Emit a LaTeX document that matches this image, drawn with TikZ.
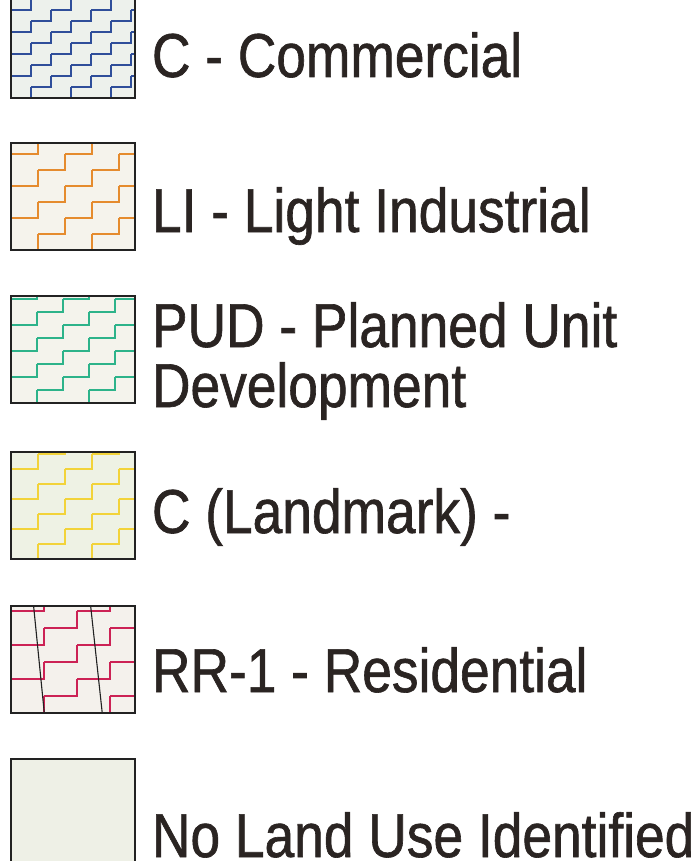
\documentclass[tikz,border=0pt]{standalone}
\usepackage{fontspec}
\newfontfamily\lab[FakeStretch=0.86,FakeBold=1]{Liberation Sans}
\definecolor{txt}{HTML}{2A2422}
\definecolor{bord}{HTML}{222222}
\definecolor{fC}{HTML}{EDF1EC}
\definecolor{fLI}{HTML}{F5F3EC}
\definecolor{fPUD}{HTML}{F4F3EC}
\definecolor{fLM}{HTML}{EEF2E4}
\definecolor{fRR}{HTML}{F4F1EC}
\definecolor{fNO}{HTML}{EEF0E6}
\definecolor{sC}{HTML}{2F4E9A}
\definecolor{sLI}{HTML}{E58B2E}
\definecolor{sPUD}{HTML}{2DB38A}
\definecolor{sLM}{HTML}{F2D33A}
\definecolor{sRR}{HTML}{CC2255}
\tikzset{
  swbox/.style={draw=none, inner sep=0pt, outer sep=0pt, minimum width=124pt, minimum height=107pt},
  swborder/.style={draw=bord, line width=1.6pt},
  stair/.style={line width=2.1pt, line cap=butt, line join=miter},
  lbl/.style={inner sep=0pt, outer sep=0pt, anchor=base west, text=txt, font=\lab\fontsize{62}{62}\selectfont}
}
% name, cx, cy(img), fill, stroke, run, rise
\newcommand\swatch[7]{%
  \node[swbox, fill=#4] (#1) at (#2,-#3) {};
  \begin{scope}
    \clip (#1.south west) rectangle (#1.north east);
    \foreach \i in {-1,...,8}{\foreach \j in {-1,...,12}{%
      \ifodd\numexpr\i+\j\relax\else
        \draw[stair, #5, shift={(#1.south west)}] (\i*#6,\j*#7) -- ++(#6,0) -- ++(0,#7);
      \fi}}
  \end{scope}
}
\begin{document}
\begin{tikzpicture}[x=1pt,y=1pt]
\useasboundingbox (0,0) rectangle (690,-861);
\fill[white] (0,0) rectangle (690,-861);

\swatch{b1}{73}{44.5}{fC}{sC}{20}{11}
\draw[swborder] (b1.south west) rectangle (b1.north east);
\swatch{b2}{73}{196.5}{fLI}{sLI}{27}{16}
\draw[swborder] (b2.south west) rectangle (b2.north east);
\swatch{b3}{73}{349.5}{fPUD}{sPUD}{26}{13}
\draw[swborder] (b3.south west) rectangle (b3.north east);
\swatch{b4}{73}{505.5}{fLM}{sLM}{27}{15}
\draw[swborder] (b4.south west) rectangle (b4.north east);
\swatch{b5}{73}{659.5}{fRR}{sRR}{33}{17}
\begin{scope}
  \clip (b5.south west) rectangle (b5.north east);
  \draw[bord, line width=1.1pt] (33,-600) -- (45,-720);
  \draw[bord, line width=1.1pt] (90,-600) -- (103,-720);
\end{scope}
\draw[swborder] (b5.south west) rectangle (b5.north east);
\node[swbox, fill=fNO] (b6) at (73,-812.5) {};
\draw[swborder] (b6.south west) rectangle (b6.north east);

\node[lbl] (t1) at (152,-77) {C - Commercial};
\node[lbl] (t2) at (152,-232) {LI - Light Industrial};
\node[lbl] (t3a) at (152,-347) {PUD - Planned Unit};
\node[lbl] (t3b) at (152,-407) {Development};
\node[lbl] (t4) at (152,-533) {C (Landmark) -};
\node[lbl] (t5) at (152,-692) {RR-1 - Residential};
\node[lbl] (t6) at (152,-857) {No Land Use Identified};
\end{tikzpicture}
\end{document}
